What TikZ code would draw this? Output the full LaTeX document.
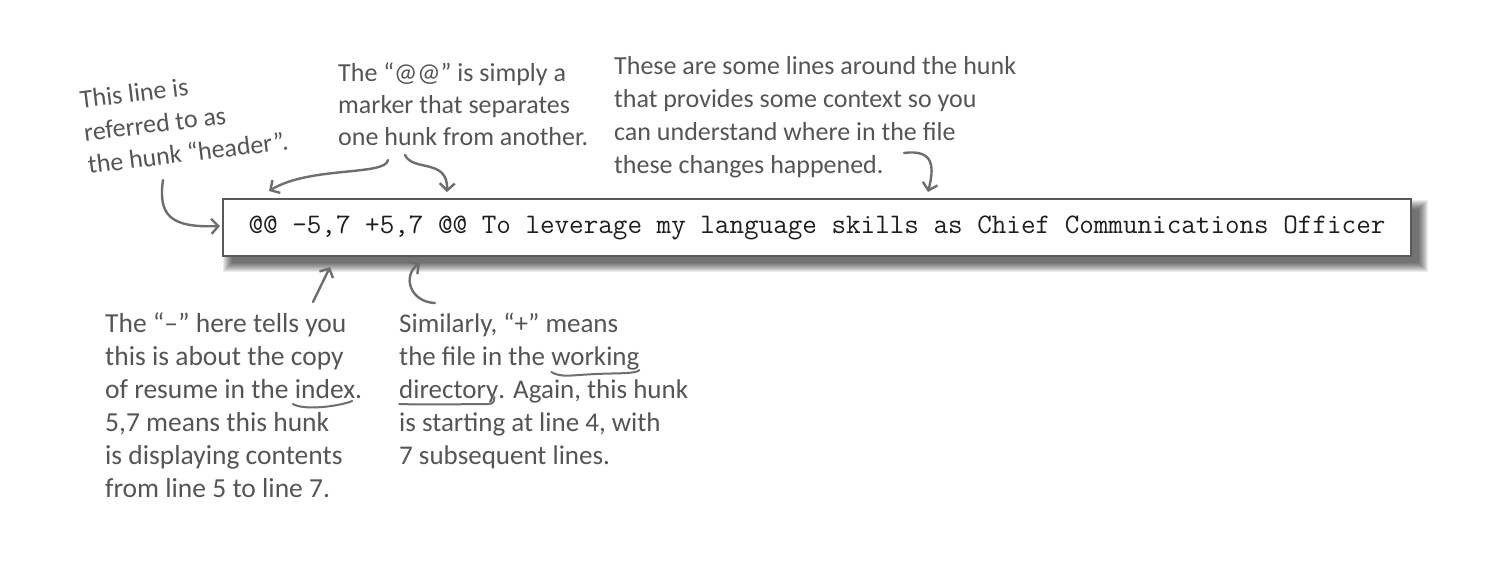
\documentclass[tikz,border=0pt]{standalone}
\usepackage{fontspec}
\setmainfont{Carlito}
\usetikzlibrary{arrows.meta,calc}
\definecolor{ink}{HTML}{555555}
\definecolor{arrowc}{HTML}{6E6E6E}
\definecolor{boxc}{HTML}{5A5A5A}
\definecolor{codec}{HTML}{1E1E1E}
\tikzset{
  note/.style={anchor=base west, align=left, inner sep=0pt, text=ink},
  pointer/.style={draw=arrowc, line width=2.4pt, line cap=round, line join=round,
    -{Straight Barb[length=7pt,width=15pt,line width=2.4pt]}},
  uline/.style={draw=arrowc, line width=2pt, line cap=round},
  codebox/.style={draw=boxc, line width=1.6pt, fill=white, inner sep=0pt,
    minimum width=1188pt, minimum height=57pt, text=codec,
    font=\ttfamily\fontsize{28.3}{30}\selectfont\addfontfeatures{FakeBold=1.5}}
}
% hand-drawn underlines attached to words
\newcommand{\ulsmile}[1]{\tikz[baseline=(w.base),x=1pt,y=1pt]{\node[inner sep=0pt,outer sep=0pt](w){#1};
  \draw[uline,overlay] ($(w.base west)+(-2,-6)$) .. controls +(12,-7) and +(-12,-5) .. ($(w.base east)+(-3,-3)$);}}
\newcommand{\ulwave}[1]{\tikz[baseline=(w.base),x=1pt,y=1pt]{\node[inner sep=0pt,outer sep=0pt](w){#1};
  \draw[uline,overlay] ($(w.base west)+(0,-7)$) .. controls +(10,-6) and +(-25,-1) .. ($(w.base west)+(45,-9)$) .. controls +(20,1) and +(-3,-4) .. ($(w.base east)+(0,-5)$);}}
\newcommand{\ulhook}[1]{\tikz[baseline=(w.base),x=1pt,y=1pt]{\node[inner sep=0pt,outer sep=0pt](w){#1};
  \draw[uline,overlay] ($(w.base west)+(0,-6)$) .. controls +(30,-1) and +(-20,0) .. ($(w.base east)+(-10,-6)$) .. controls +(6,0) and +(0,-3) .. ($(w.base east)+(-4,1)$);}}
\begin{document}
\begin{tikzpicture}[x=1pt,y=-1pt]
\useasboundingbox (0,0) rectangle (1504,560);
\fill[white] (0,0) rectangle (1504,560);
% shadow
\foreach \i in {0,...,9}
  \fill[black,opacity=0.075] (232-\i,209-\i) rectangle (1419+\i,263+\i);
% code box
\node[codebox] (code) at (817,227.5) {@@ -5,7 +5,7 @@ To leverage my language skills as Chief Communications Officer};
% notes
\node[note, rotate=7, font=\fontsize{26}{33}\selectfont] (hdr) at (89,174) {This line is\\referred to as\\the hunk “header”.};
\node[note, font=\fontsize{26}{32}\selectfont] (at) at (338,145) {The “@@” is simply a\\marker that separates\\one hunk from another.};
\node[note, font=\fontsize{26}{33}\selectfont] (ctx) at (614,173) {These are some lines around the hunk\\that provides some context so you\\can understand where in the file\\these changes happened.};
\node[note, font=\fontsize{27.5}{33}\selectfont] (minus) at (105,497) {The “–” here tells you\\this is about the copy\\of resume in the \ulsmile{index}.\\5,7 means this hunk\\is displaying contents\\from line 5 to line 7.};
\node[note, font=\fontsize{27}{33}\selectfont] (plus) at (399,464) {Similarly, “+” means\\the file in the \ulwave{working}\\\ulhook{directory}. Again, this hunk\\is starting at line 4, with\\7 subsequent lines.};
% connector ends
\coordinate (hdrS) at (163,180);
\coordinate (hdrT) at (220,226);
\coordinate (atS1) at (388,160);
\coordinate (atT1) at (269,191);
\coordinate (atS2) at (405,155);
\coordinate (atT2) at (447,192);
\coordinate (ctxS) at (904,153);
\coordinate (ctxT) at (928,192);
\coordinate (minS) at (313,302);
\coordinate (minT) at (330,267);
\coordinate (plusS) at (435,303);
\coordinate (plusT) at (420,263);
% arrows
\draw[pointer] (hdrS) .. controls (158,215) and (170,228) .. (hdrT);
\draw[pointer] (atS1) .. controls (386,176) and (310,166) .. (atT1);
\draw[pointer] (atS2) .. controls (413,172) and (448,158) .. (atT2);
\draw[pointer] (ctxS) .. controls (935,149) and (934,168) .. (ctxT);
\draw[pointer] (minS) -- (minT);
\draw[pointer] (plusS) .. controls (410,302) and (402,276) .. (plusT);
\end{tikzpicture}
\end{document}
